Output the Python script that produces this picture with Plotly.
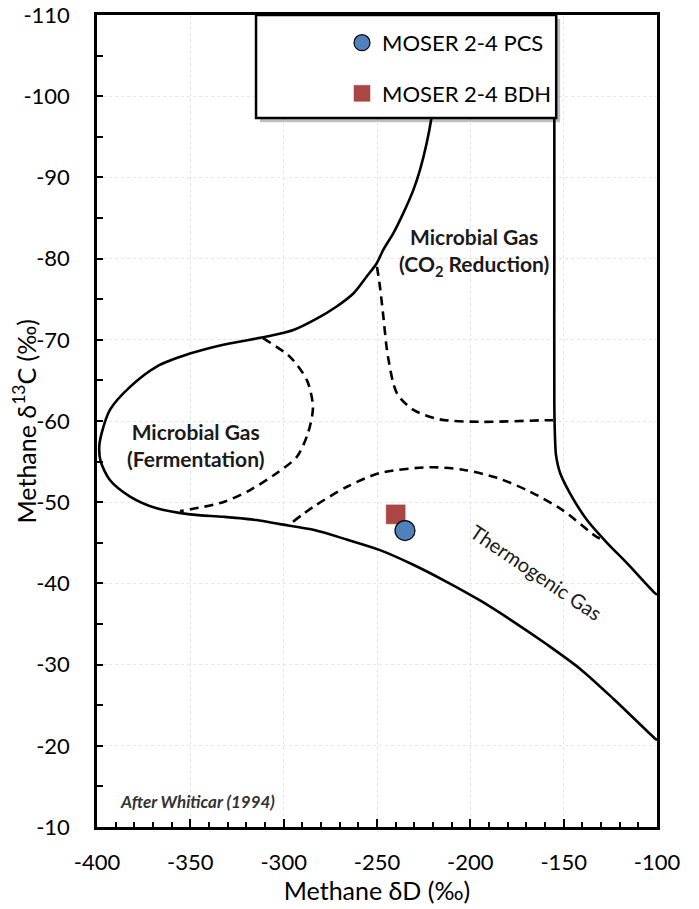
import plotly.graph_objects as go

# Whiticar (1994) field boundaries (Methane dD, Methane d13C)
outer_x = [-217.5, -220.7, -223.4, -227.0, -230.6, -235.9, -241.3, -246.6, -250.2, -255.5, -262.7,
           -271.6, -282.3, -294.8, -309.1, -332.3, -350.2, -368.0, -382.3, -393.0, -397.5, -398.8,
           -398.0, -393.0, -382.3, -368.0, -350.2, -332.3, -314.4, -302.0, -284.1, -266.2, -248.4,
           -230.6, -212.7, -194.8, -177.0, -159.1, -141.3, -123.4, -101.1, -100.0]
outer_y = [-103.0, -97.5, -94.2, -90.9, -88.4, -85.6, -83.1, -81.1, -79.4, -77.8, -75.7,
           -74.1, -72.6, -71.2, -70.4, -69.4, -68.3, -66.7, -64.2, -61.4, -58.5, -56.8,
           -55.0, -52.7, -50.7, -49.25, -48.5, -48.2, -47.8, -47.3, -46.6, -45.4, -44.1,
           -42.3, -40.2, -37.9, -35.3, -32.5, -29.5, -25.8, -20.9, -20.7]

right_x = [-155.0, -155.0, -155.0, -154.6, -154.1, -151.9, -146.6, -137.5, -126.8, -116.1, -101.1, -100.0]
right_y = [-110.0, -80.0, -62.0, -57.7, -55.8, -53.6, -51.1, -47.8, -45.0, -42.5, -38.8, -38.6]

ferm_x = [-311.1, -296.6, -287.5, -284.3, -287.0, -292.9, -303.6, -318.0, -332.5, -355.5]
ferm_y = [-70.2, -67.9, -65.0, -61.7, -58.5, -55.6, -53.6, -51.5, -50.0, -48.9]

co2_x = [-250.0, -248.4, -246.8, -244.1, -239.3, -230.7, -216.3, -194.8, -158.9, -155.7]
co2_y = [-79.0, -76.5, -73.3, -67.9, -63.4, -61.4, -60.2, -59.9, -60.1, -60.1]

thermo_x = [-295.0, -284.3, -266.1, -248.4, -221.6, -203.9, -185.7, -168.0, -150.4, -132.1, -127.5]
thermo_y = [-47.6, -49.4, -51.9, -53.6, -54.3, -54.0, -53.0, -51.3, -49.0, -45.7, -45.3]

# Samples
pcs_x = [-235.0]
pcs_y = [-46.5]
bdh_x = [-240.0]
bdh_y = [-48.5]

# Tick labels
x_tick_vals = [-400, -350, -300, -250, -200, -150, -100]
x_tick_text = ["-400", "-350", "-300", "-250", "-200", "-150", "-100"]
y_tick_vals = [-110, -100, -90, -80, -70, -60, -50, -40, -30, -20, -10]
y_tick_text = ["-110", "-100", "-90", "-80", "-70", "-60", "-50", "-40", "-30", "-20", "-10"]

FONT = "Lato"
DASH = "9px,6px"

fig = go.Figure()

for xs, ys, dash in [(outer_x, outer_y, "solid"), (right_x, right_y, "solid"),
                     (ferm_x, ferm_y, DASH), (co2_x, co2_y, DASH),
                     (thermo_x, thermo_y, DASH)]:
    fig.add_trace(go.Scatter(x=xs, y=ys, mode="lines",
                             line=dict(color="black", width=2.6, dash=dash,
                                       shape="spline", smoothing=0.8),
                             showlegend=False, hoverinfo="skip"))

fig.add_trace(go.Scatter(x=bdh_x, y=bdh_y, mode="markers", name="MOSER 2-4 BDH",
                         legendgroup="b", legendrank=2,
                         marker=dict(symbol="square", size=19, color="#AA4643",
                                     line=dict(color="#AA4643", width=0.5))))
fig.add_trace(go.Scatter(x=pcs_x, y=pcs_y, mode="markers", name="MOSER 2-4 PCS",
                         legendgroup="a", legendrank=1,
                         marker=dict(symbol="circle", size=20, color="#4F81BD",
                                     line=dict(color="black", width=1.2))))

annos = [
    dict(x=-347.5, y=-57.0, text="<b>Microbial Gas<br>(Fermentation)</b>", size=21, angle=0),
    dict(x=-198.0, y=-80.8, text="<b>Microbial Gas<br>(CO<sub>2</sub> Reduction)</b>", size=21, angle=0),
    dict(x=-164.8, y=-41.4, text="Thermogenic Gas", size=20, angle=34),
]
for a in annos:
    fig.add_annotation(x=a["x"], y=a["y"], text=a["text"], showarrow=False, textangle=a["angle"],
                       font=dict(family=FONT, size=a["size"], color="#1a1a1a"))
fig.add_annotation(x=-389.0, y=-13.2, text="<b><i>After Whiticar (1994)</i></b>", showarrow=False,
                   xanchor="left", font=dict(family=FONT, size=17, color="#333333"))

# y-axis title
fig.add_annotation(xref="paper", yref="paper", x=-0.1295, y=0.5, xanchor="center", yanchor="middle",
                   text="Methane δ<sup>13</sup>C (‰)", textangle=-90, showarrow=False,
                   font=dict(family=FONT, size=25, color="black"))

# legend box with shadow
fig.add_shape(type="rect", xref="paper", yref="paper", x0=0.291, x1=0.827, y0=0.868, y1=0.995,
              fillcolor="rgba(0,0,0,0.25)", line=dict(width=0), layer="above")
fig.add_shape(type="rect", xref="paper", yref="paper", x0=0.284, x1=0.820, y0=0.873, y1=1.0,
              fillcolor="white", line=dict(color="black", width=2.5), layer="above")

axis_common = dict(showline=True, linecolor="black", linewidth=2.5, mirror=True,
                   ticks="inside", tickwidth=2, tickcolor="black", tickmode="array",
                   showgrid=True, gridcolor="#e6e6e6", griddash="dot", gridwidth=1,
                   zeroline=False, automargin=False,
                   tickfont=dict(family=FONT, size=22, color="black"))

fig.update_xaxes(range=[-400, -100], tickvals=x_tick_vals, ticktext=x_tick_text, ticklen=8,
                 ticklabelstandoff=14,
                 minor=dict(tickmode="linear", tick0=-400, dtick=10, ticks="inside", ticklen=5,
                            tickwidth=2, tickcolor="black", showgrid=False),
                 title=dict(text="Methane δD (‰)", font=dict(family=FONT, size=25, color="black"), standoff=5),
                 **axis_common)
fig.update_yaxes(range=[-10, -110], tickvals=y_tick_vals, ticktext=y_tick_text, ticklen=6,
                 ticklabelstandoff=20,
                 minor=dict(tickmode="linear", tick0=-110, dtick=5, ticks="inside", ticklen=6,
                            tickwidth=2, tickcolor="black", showgrid=False),
                 **axis_common)

fig.update_layout(
    width=699, height=909,
    margin=dict(l=97, r=42, t=15, b=82),
    plot_bgcolor="white", paper_bgcolor="white",
    showlegend=True,
    legend=dict(x=0.4375, y=0.9915, xanchor="left", yanchor="top", bgcolor="rgba(0,0,0,0)",
                borderwidth=0, tracegroupgap=19,
                font=dict(family=FONT, size=22, color="black")),
)

fig.write_html("out.html", config={"displayModeBar": False},
               post_script="document.body.style.margin='0px';")
